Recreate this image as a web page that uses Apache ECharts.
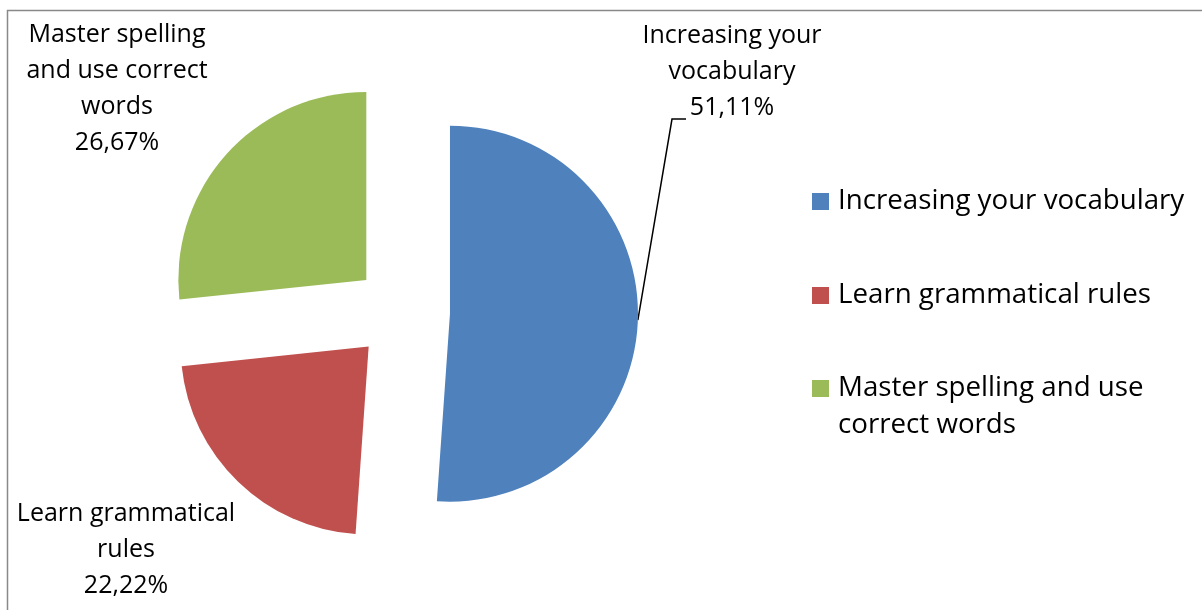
<!DOCTYPE html>
<html>
<head>
<meta charset="utf-8">
<script src="https://cdn.jsdelivr.net/npm/echarts@6/dist/echarts.min.js"></script>
<style>
html,body{margin:0;padding:0;background:#fff;}
#chart{width:1202px;height:610px;}
</style>
</head>
<body>
<div id="chart"></div>
<script>
// ---- data ----
const categories = ['Increasing your vocabulary', 'Learn grammatical rules', 'Master spelling and use correct words'];
const values = [51.11, 22.22, 26.67];
const labelNames = ['Increasing your\nvocabulary', 'Learn grammatical\nrules', 'Master spelling\nand use correct\nwords'];
const legendNames = ['Increasing your vocabulary', 'Learn grammatical rules', 'Master spelling and use\ncorrect words'];
const colors = ['#4F81BD', '#C0504D', '#9BBB59'];

const FONT = '"Open Sans"';
const CENTER = [402, 312];
const RADIUS = 188;
const OFFSET = 48;
const labelCenters = [[732, 72], [126, 550], [117, 89]];

const chart = echarts.init(document.getElementById('chart'), null, {renderer: 'canvas'});

const legendTops = [178, 272, 328];
const legends = categories.map((c, i) => ({
  data: [c],
  orient: 'vertical',
  left: 807,
  top: legendTops[i],
  itemWidth: 17,
  itemHeight: 17,
  itemGap: 0,
  icon: 'rect',
  selectedMode: false,
  formatter: () => (i === 2 ? '{sp| }\n' : '') + legendNames[i],
  textStyle: {
    fontFamily: FONT, fontSize: 27.7, color: '#000', lineHeight: 37,
    padding: [0, 0, 0, 4],
    rich: {sp: {fontSize: 10, lineHeight: 37}}
  }
}));

const pieData = categories.map((c, i) => ({name: c, value: values[i]}));

const option = {
  animation: false,
  color: colors,
  legend: legends,
  graphic: [{
    type: 'rect', silent: true,
    shape: {x: 7.5, y: 10.5, width: 1210, height: 620},
    style: {fill: 'none', stroke: '#898989', lineWidth: 1.5}
  }],
  series: [{
    // visible exploded pie
    type: 'pie',
    center: CENTER,
    radius: RADIUS,
    startAngle: 90,
    clockwise: true,
    selectedMode: 'multiple',
    selectedOffset: OFFSET,
    emphasis: {disabled: true},
    silent: true,
    data: pieData.map(d => Object.assign({selected: true}, d)),
    label: {show: false},
    labelLine: {show: false}
  }, {
    // transparent pie at exploded outer radius, carrying the data labels
    type: 'pie',
    center: CENTER,
    radius: RADIUS + OFFSET,
    startAngle: 90,
    clockwise: true,
    silent: true,
    avoidLabelOverlap: false,
    emphasis: {disabled: true},
    itemStyle: {color: 'rgba(0,0,0,0)'},
    data: pieData.map((d, i) => Object.assign({labelLine: {show: i === 0}}, d)),
    label: {
      show: true,
      position: 'outside',
      overflow: 'none',
      fontFamily: FONT,
      fontSize: 25,
      color: '#000',
      lineHeight: 36,
      align: 'center',
      formatter: p => labelNames[p.dataIndex] + '\n' + p.value.toFixed(2).replace('.', ',') + '%'
    },
    labelLine: {show: false, lineStyle: {color: '#000', width: 1.5}},
    labelLayout: function (p) {
      const c = labelCenters[p.dataIndex];
      const res = {x: c[0], y: c[1], align: 'center', verticalAlign: 'middle'};
      if (p.dataIndex === 0 && p.labelLinePoints) {
        res.labelLinePoints = [p.labelLinePoints[0], [c[0] - 60, c[1] + 47], [c[0] - 46, c[1] + 47]];
      }
      return res;
    }
  }]
};
chart.setOption(option);
</script>
</body>
</html>
